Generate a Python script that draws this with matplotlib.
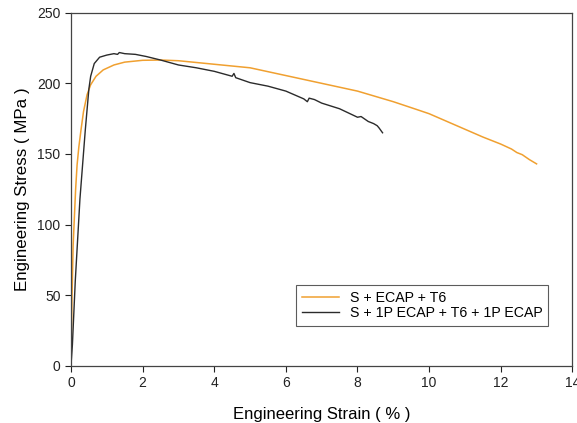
import matplotlib
matplotlib.use('Agg')
import matplotlib.pyplot as plt

# strain (%) / stress (MPa)
strain_t6 = [0, 0.03, 0.06, 0.1, 0.13, 0.17, 0.22, 0.28, 0.35, 0.45, 0.55, 0.7, 0.9,
             1.2, 1.5, 2.0, 2.5, 3.0, 4.0, 5.0, 6.0, 7.0, 8.0, 9.0, 9.65, 10.0,
             11.0, 11.5, 12.0, 12.3, 12.45, 12.6, 12.8, 13.0]
stress_t6 = [0, 50, 85, 108, 125, 142, 155, 167, 180, 192, 199, 205, 209.5,
             213, 215, 216.3, 216.5, 216, 213.5, 211, 205.5, 200, 194.5, 187, 181.5, 178.5,
             167.5, 162, 157, 153.5, 151, 149.5, 146, 143]

strain_1p = [0, 0.04, 0.12, 0.25, 0.4, 0.5, 0.55, 0.65, 0.8, 1.0, 1.2, 1.3, 1.35,
             1.5, 1.8, 2.1, 2.5, 3.0, 3.5, 4.0, 4.5, 4.55, 4.6, 5.0, 5.5, 6.0,
             6.5, 6.6, 6.65, 6.8, 7.0, 7.5, 8.0, 8.1, 8.3, 8.45, 8.55, 8.6, 8.7]
stress_1p = [0, 15, 60, 118, 167, 196, 205, 214, 218.5, 220, 221, 220.5, 221.8,
             221, 220.5, 219, 216.5, 213, 211, 208.5, 205, 207, 204, 200.5, 198, 194.5,
             189, 187, 189.5, 188.5, 186, 182, 176, 176.5, 173, 171.5, 170, 168.5, 165]

labels = ['S + ECAP + T6', 'S + 1P ECAP + T6 + 1P ECAP']

plt.rcParams['font.family'] = ['Liberation Sans', 'DejaVu Sans']

fig = plt.figure(figsize=(5.77, 4.23), dpi=100)
ax = fig.add_axes([0.123, 0.135, 0.869, 0.835])

ax.plot(strain_t6, stress_t6, color='#f0a030', lw=1.1, label=labels[0])
ax.plot(strain_1p, stress_1p, color='#2b2b2b', lw=1.0, label=labels[1])

ax.set_xlim(0, 14)
ax.set_ylim(0, 250)
ax.set_xticks(range(0, 15, 2))
ax.set_yticks(range(0, 251, 50))
ax.tick_params(direction='out', length=4, width=0.8, labelsize=10, colors='#222222')
for s in ax.spines.values():
    s.set_color('#444444')
    s.set_linewidth(0.9)

ax.set_xlabel('Engineering Strain ( % )', fontsize=12, labelpad=12)
ax.set_ylabel('Engineering Stress ( MPa )', fontsize=12.2, labelpad=5)

leg = ax.legend(loc='lower right', bbox_to_anchor=(0.952, 0.113), fontsize=10.2,
                fancybox=False, edgecolor='#333333', handlelength=2.6,
                labelspacing=0.12, borderpad=0.4, borderaxespad=0)
leg.get_frame().set_linewidth(0.8)

fig.savefig('out.png', dpi=100)
